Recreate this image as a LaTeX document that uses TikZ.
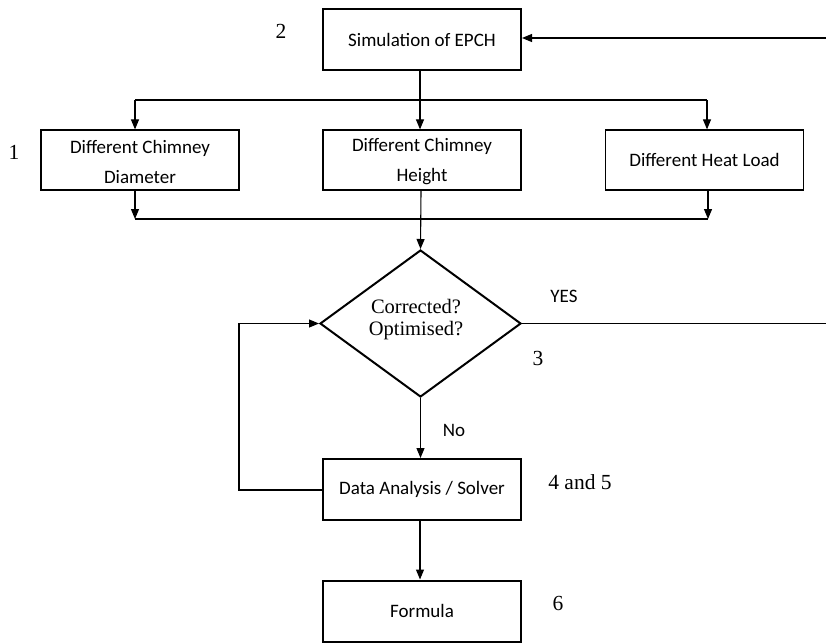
\documentclass[tikz,border=0pt]{standalone}
\usepackage{fontspec}
\setmainfont{Liberation Serif}
\newfontfamily\boxfont{Carlito}
\usetikzlibrary{arrows.meta,shapes.geometric}
\tikzset{
  thickbox/.style={draw, line width=2pt, minimum width=198pt, minimum height=61pt,
    inner sep=0pt, font=\boxfont\fontsize{19}{30}\selectfont, align=center},
  thinbox/.style={draw, line width=1.2pt, minimum width=198pt, minimum height=60pt,
    inner sep=0pt, font=\boxfont\fontsize{19}{30}\selectfont, align=center},
  caption/.style={inner sep=0pt, font=\boxfont\fontsize{19}{30}\selectfont, align=center},
  decision/.style={draw, diamond, line width=2pt, minimum width=201pt, minimum height=147pt,
    inner sep=0pt},
  dectext/.style={font=\fontsize{20.5}{22}\selectfont, align=center, inner sep=0pt},
  num/.style={font=\fontsize{21.5}{24}\selectfont, inner sep=0pt},
  lbl/.style={font=\boxfont\fontsize{19}{22}\selectfont, inner sep=0pt},
  conn/.style={line width=1.1pt},
  arr/.style={conn, -{Triangle[length=10pt, width=8pt]}},
}
\begin{document}
\begin{tikzpicture}[x=1pt, y=-1pt]
\useasboundingbox (0,0) rectangle (826,643);

% boxes of the flow
\node[thickbox] (sim) at (422,39.5) {Simulation of EPCH};
\node[thinbox] (dia) at (140,160) {};
\node[caption] (diatext) at (140,162) {Different Chimney\\Diameter};
\node[thinbox] (hgt) at (422,160) {};
\node[caption] (hgttext) at (422,162) {Different Chimney\\Height};
\node[thinbox] (heat) at (704.5,160) {Different Heat Load};
\node[decision] (dec) at (420.5,323.5) {};
\node[dectext] (dectxt) at (416,319.5) {Corrected?\\Optimised?};
\node[thickbox] (data) at (422,489.5) {Data Analysis / Solver};
\node[thickbox] (form) at (422,611) {Formula};

% step numbers
\node[num] (n2) at (281,31) {2};
\node[num] (n1) at (14,152) {1};
\node[num] (n3) at (538,358) {3};
\node[num] (n45) at (580,482) {4 and 5};
\node[num] (n6) at (558,603) {6};

% branch labels
\node[lbl] (yes) at (564,296) {YES};
\node[lbl] (no) at (454,430) {No};

% branching below the simulation
\coordinate (bl) at (135,100);
\coordinate (br) at (707,100);
\draw[conn] (bl) -- (br);
\draw[arr] (bl) -- (bl |- dia.north);
\draw[arr] (br) -- (br |- heat.north);
\draw[arr] (sim.south -| 420,0) -- (hgt.north -| 420,0);

% merging into the decision
\coordinate (ml) at (135,219);
\coordinate (mr) at (708,219);
\draw[conn] (ml) -- (mr);
\draw[arr] (dia.south -| ml) -- (ml);
\draw[arr] (heat.south -| mr) -- (mr);
\draw[arr] (hgt.south -| 421,0) -- (dec.north);

% feedback into the simulation and YES exit
\coordinate (inR) at (826,38);
\draw[arr] (inR) -- (sim.east |- inR);
\coordinate (outR) at (826,323.5);
\draw[conn] (dec.east) -- (outR);

% NO branch, solver loop and result
\draw[arr] (dec.south) -- (data.north -| dec.south);
\coordinate (loopB) at (239,490);
\draw[arr] (data.west |- loopB) -- (loopB) -- (loopB |- dec.west) -- (dec.west);
\draw[arr] (data.south -| 420,0) -- (form.north -| 420,0);
\end{tikzpicture}
\end{document}
